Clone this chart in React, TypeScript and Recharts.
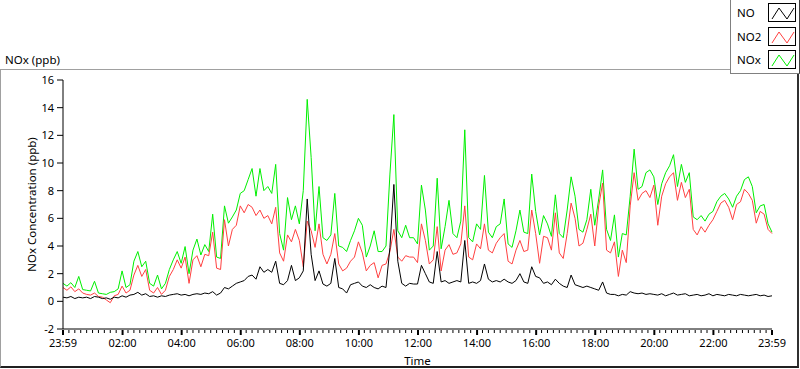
import React from "react";
import { LineChart, Line, XAxis, YAxis } from "recharts";

// Minutes after 23:59 for the sampled points (8-minute sampling)
const STEP_MIN = 8;

const NO: number[] = [
  0.3, 0.25, 0.35, 0.2, 0.3, 0.25, 0.3, 0.2, 0.35, 0.3, 0.2, 0.25, 0.15, 0.3, 0.25, 0.4, 0.3, 0.45, 0.5, 0.65, 0.45, 0.55, 0.35, 0.4, 0.3, 0.4, 0.35, 0.45, 0.5, 0.55,
  0.45, 0.5, 0.4, 0.5, 0.55, 0.5, 0.6, 0.55, 0.7, 0.45, 0.6, 1.0, 0.9, 1.1, 1.3, 1.4, 1.5, 1.8, 1.9, 1.6, 2.5, 2.1, 2.3, 2.1, 2.9, 1.3, 1.2, 1.5, 2.6, 1.5,
  1.7, 2.2, 7.4, 3.4, 1.5, 2.2, 1.25, 1.1, 1.3, 3.1, 1.0, 0.9, 0.6, 1.2, 1.3, 1.4, 1.1, 1.0, 1.2, 1.0, 0.9, 1.1, 1.0, 3.9, 8.45, 2.9, 1.3, 1.1, 1.3, 1.25,
  1.25, 2.6, 2.0, 1.4, 1.3, 3.6, 1.4, 1.5, 1.3, 1.4, 1.5, 1.4, 4.4, 1.3, 1.4, 1.3, 1.5, 2.7, 1.6, 1.4, 1.5, 1.4, 1.6, 1.4, 1.3, 1.5, 2.0, 1.4, 1.3, 2.5,
  1.8, 1.7, 1.3, 1.4, 1.2, 1.6, 1.3, 1.1, 1.0, 1.9, 1.2, 1.1, 1.0, 1.1, 1.0, 0.9, 0.8, 1.4, 0.6, 0.5, 0.5, 0.4, 0.5, 0.45, 0.7, 0.6, 0.55, 0.6, 0.5, 0.55,
  0.5, 0.45, 0.55, 0.4, 0.5, 0.6, 0.45, 0.5, 0.55, 0.4, 0.45, 0.5, 0.4, 0.45, 0.55, 0.4, 0.5, 0.45, 0.4, 0.5, 0.45, 0.4, 0.5, 0.45, 0.4, 0.45, 0.5, 0.4, 0.45, 0.35, 0.4,
];

const NO2: number[] = [
  1.0, 0.8, 1.05, 0.7, 0.9, 0.6, 0.5, 0.45, 0.6, 0.35, 0.3, 0.1, -0.1, 0.4, 0.5, 1.1, 0.6, 0.8, 1.9, 2.6, 1.8, 2.3, 0.8, 0.6, 1.0, 0.5, 0.8, 1.8, 2.3, 3.0,
  2.4, 3.2, 1.3, 3.0, 3.3, 2.5, 3.4, 3.3, 5.0, 2.4, 2.3, 5.9, 4.0, 5.2, 5.5, 6.9, 6.4, 7.0, 6.8, 6.2, 6.6, 6.0, 6.2, 5.6, 6.8, 3.5, 2.9, 4.8, 4.3, 5.2,
  4.4, 2.5, 5.8, 5.1, 3.9, 5.6, 3.4, 2.7, 3.4, 4.9, 2.7, 2.2, 2.4, 2.9, 3.2, 4.3, 3.5, 2.2, 2.6, 2.8, 1.7, 2.6, 2.7, 3.6, 5.2, 3.2, 2.9, 3.3, 3.2, 3.2,
  2.8, 5.6, 4.4, 2.7, 3.0, 5.4, 2.2, 3.7, 4.1, 3.4, 3.5, 4.15, 6.9, 3.2, 3.0, 4.15, 3.8, 5.6, 3.7, 3.5, 4.2, 4.6, 4.9, 2.9, 2.7, 3.7, 4.4, 3.6, 3.7, 6.6,
  4.9, 2.75, 4.7, 4.6, 3.7, 6.4, 3.5, 3.1, 4.9, 7.1, 6.0, 4.0, 4.2, 5.2, 6.3, 4.0, 6.9, 8.55, 3.7, 3.5, 4.3, 1.8, 3.7, 2.8, 6.9, 9.3, 7.3, 7.8, 8.0, 7.5,
  8.4, 5.5, 7.6, 8.5, 9.0, 9.3, 7.3, 8.6, 7.5, 8.1, 5.2, 4.8, 5.4, 5.0, 5.5, 5.9, 6.5, 7.1, 7.3, 6.8, 5.9, 7.0, 7.2, 8.1, 7.8, 7.3, 5.65, 6.5, 6.3, 5.2, 4.9,
];

const NOX: number[] = [
  1.3, 1.1, 1.35, 1.0, 1.8, 0.85, 0.8, 0.75, 1.45, 0.6, 0.55, 0.5, 0.65, 0.7, 0.9, 2.2, 1.0, 1.2, 2.9, 3.6, 2.5, 2.9, 1.3, 1.1, 1.9, 0.9, 1.3, 2.3, 3.0, 3.6,
  2.75, 3.96, 2.0, 3.7, 4.5, 3.35, 4.1, 3.6, 6.3, 3.2, 3.1, 6.9, 5.65, 6.1, 6.6, 7.8, 8.0, 8.8, 9.6, 7.6, 9.6, 8.0, 8.3, 7.8, 9.9, 4.9, 3.7, 7.5, 5.9, 6.9,
  5.6, 8.0, 14.6, 10.4, 5.1, 8.3, 4.6, 4.4, 4.8, 7.8, 4.0, 3.9, 3.6, 4.4, 5.1, 6.0, 5.5, 3.2, 4.0, 5.1, 3.6, 3.6, 4.0, 9.2, 13.5, 5.1, 4.6, 5.5, 4.6, 4.6,
  4.15, 8.4, 6.6, 3.7, 4.0, 8.9, 3.8, 5.4, 7.3, 4.9, 4.6, 5.8, 12.4, 4.6, 4.3, 5.6, 5.2, 9.1, 5.0, 4.6, 5.4, 5.6, 7.4, 4.15, 3.9, 5.1, 6.6, 5.0, 4.9, 9.2,
  6.5, 4.8, 6.2, 5.6, 4.7, 7.7, 4.9, 4.6, 6.6, 9.0, 7.6, 5.2, 5.0, 5.9, 8.1, 5.5, 7.4, 9.5, 5.2, 4.4, 6.25, 3.2, 4.9, 4.8, 7.6, 11.0, 8.1, 8.3, 9.3, 9.5,
  9.0, 7.0, 8.5, 9.3, 9.8, 10.6, 8.3, 9.9, 8.6, 9.3, 6.1, 5.9, 6.2, 5.8, 6.3, 6.5, 7.2, 7.6, 7.8, 7.4, 6.8, 7.6, 8.0, 8.8, 9.0, 8.3, 6.4, 6.9, 7.0, 5.6, 5.0,
];

const X_TICKS: number[] = [0, 121, 241, 361, 481, 601, 721, 841, 961, 1081, 1201, 1321, 1440];
const X_TICK_LABELS: string[] = ["23:59", "02:00", "04:00", "06:00", "08:00", "10:00", "12:00", "14:00", "16:00", "18:00", "20:00", "22:00", "23:59"];
const Y_TICKS: number[] = [-2, 0, 2, 4, 6, 8, 10, 12, 14, 16];
const MINOR_STEP = 12;

const SERIES = [
  { key: "NO", color: "#000000" },
  { key: "NO2", color: "#ff4040" },
  { key: "NOx", color: "#00f000" },
];

const n = Math.min(NO.length, NO2.length, NOX.length);
const data = Array.from({ length: n }, (_, i) => ({
  t: i * STEP_MIN,
  NO: NO[i],
  NO2: NO2[i],
  NOx: NOX[i],
}));

// Major ticks plus minor ticks every 12 minutes
const allXTicks: number[] = [...X_TICKS];
for (let m = MINOR_STEP; m < 1440; m += MINOR_STEP) {
  if (!X_TICKS.some((t) => Math.abs(t - m) < 3)) allXTicks.push(m);
}
allXTicks.sort((a, b) => a - b);

const FONT = "'Noto Sans', 'Open Sans', sans-serif";

function XTick(props: any) {
  const { x, y, payload } = props;
  const v = payload?.value;
  const idx = X_TICKS.indexOf(v);
  const major = idx >= 0;
  return (
    <g>
      <line x1={x} x2={x} y1={y + 1} y2={y + (major ? 6 : 4)} stroke="#000" strokeWidth={major ? 2 : 1} />
      {major && (
        <text x={x} y={y + 18} textAnchor="middle" fontSize={11} fontFamily={FONT} fill="#000">
          {X_TICK_LABELS[idx]}
        </text>
      )}
    </g>
  );
}

function Swatch({ color }: { color: string }) {
  return (
    <svg width={28} height={19} style={{ display: "block", border: "1px solid #000", boxSizing: "border-box", background: "#fff" }}>
      <polyline points="3,15 10,4 18,15 25,4" fill="none" stroke={color} strokeWidth={1} />
    </svg>
  );
}

export default function App() {
  const tickStyle = { fontSize: 11, fill: "#000", fontFamily: FONT };
  return (
    <div style={{ position: "relative", width: 800, height: 369, background: "#fff", fontFamily: FONT, overflow: "hidden" }}>
      <style>{"body{margin:0}"}</style>
      {/* outer panel frame */}
      <div
        style={{
          position: "absolute",
          left: 0,
          top: 69,
          width: 799,
          height: 299,
          boxSizing: "border-box",
          borderTop: "1px solid #a0a0a0",
          borderLeft: "1px solid #a0a0a0",
          borderRight: "2px solid #303030",
          borderBottom: "2px solid #202020",
        }}
      />
      <div style={{ position: "absolute", left: 5, top: 52, fontSize: 11.5, lineHeight: "16px", color: "#000" }}>NOx (ppb)</div>
      <div style={{ position: "absolute", left: 0, top: 0 }}>
        <LineChart width={800} height={369} data={data} margin={{ top: 80, right: 28, bottom: 10, left: 23 }}>
          <XAxis
            xAxisId="top"
            orientation="top"
            dataKey="t"
            type="number"
            domain={[0, 1440]}
            height={0}
            tick={false}
            tickLine={false}
            axisLine={{ stroke: "#000" }}
          />
          <XAxis
            dataKey="t"
            type="number"
            domain={[0, 1440]}
            ticks={allXTicks}
            interval={0}
            height={30}
            tickSize={0}
            tickMargin={0}
            tick={<XTick />}
            tickLine={false}
            axisLine={{ stroke: "#000" }}
            label={{
              content: (p: any) => {
                const vb = p.viewBox || { x: 63, y: 329, width: 709, height: 30 };
                return (
                  <text x={vb.x + vb.width / 2} y={vb.y + 31} textAnchor="middle" dominantBaseline="central" fontSize={11.5} fontFamily={FONT} fill="#000">
                    Time
                  </text>
                );
              },
            }}
          />
          <YAxis
            domain={[-2, 16]}
            ticks={Y_TICKS}
            interval={0}
            width={40}
            tickSize={6}
            tickMargin={3}
            tick={tickStyle}
            tickLine={{ stroke: "#000" }}
            axisLine={{ stroke: "#000" }}
            allowDataOverflow
            label={{
              content: (p: any) => {
                const vb = p.viewBox || { x: 23, y: 80, width: 40, height: 249 };
                const cx = vb.x + 8;
                const cy = vb.y + vb.height / 2;
                return (
                  <text
                    x={cx}
                    y={cy}
                    transform={`rotate(-90 ${cx} ${cy})`}
                    textAnchor="middle"
                    dominantBaseline="central"
                    fontSize={11.5}
                    fontFamily={FONT}
                    fill="#000"
                  >
                    NOx Concentration (ppb)
                  </text>
                );
              },
            }}
          />
          <YAxis
            yAxisId="right"
            orientation="right"
            domain={[-2, 16]}
            width={0}
            tick={false}
            tickLine={false}
            axisLine={{ stroke: "#909090" }}
          />
          <Line dataKey="NOx" stroke={SERIES[2].color} strokeWidth={1} dot={false} isAnimationActive={false} type="linear" />
          <Line dataKey="NO2" stroke={SERIES[1].color} strokeWidth={1} dot={false} isAnimationActive={false} type="linear" />
          <Line dataKey="NO" stroke={SERIES[0].color} strokeWidth={1} dot={false} isAnimationActive={false} type="linear" />
        </LineChart>
      </div>
      {/* legend */}
      <div
        style={{
          position: "absolute",
          left: 730,
          top: 0,
          width: 70,
          height: 74,
          boxSizing: "border-box",
          background: "#fff",
          borderLeft: "1px solid #808080",
          borderBottom: "1px solid #808080",
          borderRight: "1px solid #404040",
        }}
      >
        {SERIES.map((s, i) => (
          <div key={s.key} style={{ position: "absolute", left: 0, top: 3 + i * 23.5, width: 68, height: 19 }}>
            <span style={{ position: "absolute", left: 6, top: 0, lineHeight: "19px", fontSize: 11.5, color: "#000" }}>{s.key}</span>
            <div style={{ position: "absolute", left: 37, top: 0 }}>
              <Swatch color={s.color} />
            </div>
          </div>
        ))}
      </div>
    </div>
  );
}
